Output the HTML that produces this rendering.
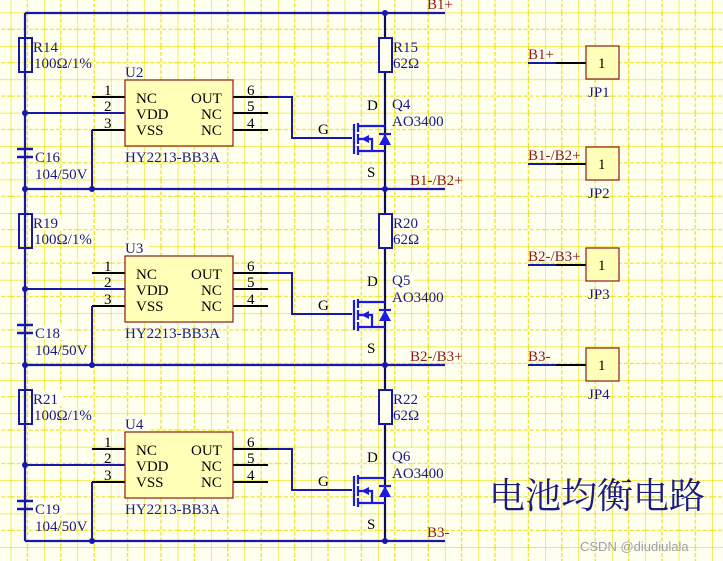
<!DOCTYPE html>
<html><head><meta charset="utf-8"><style>
html,body{margin:0;padding:0;background:#fffff0;}
svg{display:block;}
text{font-family:"Liberation Serif",serif;}
</style></head><body>
<svg width="723" height="561" viewBox="0 0 723 561" xmlns="http://www.w3.org/2000/svg">
<defs>
<pattern id="g" x="10.7" y="12.6" width="33.4" height="33.4" patternUnits="userSpaceOnUse">
<path d="M0 0 V33.4 M0 0 H33.4" stroke="#e8e000" stroke-width="1.2" fill="none"/>
<path d="M16.7 0 V33.4 M0 16.7 H33.4" stroke="#e8e000" stroke-width="1.1" stroke-dasharray="4 2" fill="none"/>
</pattern>
<g id="sec">
<rect x="19" y="38" width="13" height="34" fill="none" stroke="#1818a8" stroke-width="2"/>
<line x1="17" y1="149" x2="33" y2="149" stroke="#1818a8" stroke-width="2.5"/>
<line x1="17" y1="157" x2="33" y2="157" stroke="#1818a8" stroke-width="2.5"/>
<line x1="25" y1="113" x2="125" y2="113" stroke="#1818a8" stroke-width="2"/>
<circle cx="25" cy="113" r="3" fill="#1818a8"/>
<line x1="92" y1="97" x2="125" y2="97" stroke="#000" stroke-width="2"/>
<line x1="92" y1="130" x2="125" y2="130" stroke="#000" stroke-width="2"/>
<polyline points="92,130 92,189" fill="none" stroke="#1818a8" stroke-width="2"/>
<line x1="233" y1="97" x2="268" y2="97" stroke="#000" stroke-width="2"/>
<line x1="233" y1="113" x2="268" y2="113" stroke="#000" stroke-width="2"/>
<line x1="233" y1="130" x2="268" y2="130" stroke="#000" stroke-width="2"/>
<polyline points="268,97 292,97 292,138 352,138" fill="none" stroke="#1818a8" stroke-width="2"/>
<rect x="125" y="80" width="108" height="66" fill="#ffffb8" stroke="#8b1a1a" stroke-width="1.2"/>
<rect x="379" y="38" width="13" height="34" fill="#fffff0" stroke="#1818a8" stroke-width="2"/>
<g stroke="#1a1ae0" stroke-width="2.2" fill="none">
<line x1="354" y1="124" x2="354" y2="154"/>
<line x1="358" y1="123" x2="358" y2="132"/>
<line x1="358" y1="134" x2="358" y2="144"/>
<line x1="358" y1="146" x2="358" y2="155"/>
<line x1="358" y1="126" x2="385" y2="126"/>
<line x1="358" y1="151" x2="385" y2="151"/>
<polyline points="358,139 372,139 372,151"/>
<line x1="379" y1="134" x2="391" y2="134"/>
</g>
<polygon points="361,139 369,135 369,143" fill="#1a1ae0"/>
<polygon points="385,134 379,145 391,145" fill="#1a1ae0"/>
<g font-size="15" fill="#1a1a80">
<text x="33" y="52">R14</text>
<text x="34" y="68">100Ω/1%</text>
<text x="35" y="162">C16</text>
<text x="35" y="179">104/50V</text>
<text x="125" y="77">U2</text>
<text x="125" y="162">HY2213-BB3A</text>
<text x="393" y="52">R15</text>
<text x="393" y="68">62Ω</text>
<text x="392" y="109">Q4</text>
<text x="392" y="126">AO3400</text>
</g>
<g font-size="15" fill="#000">
<text x="104" y="95">1</text><text x="104" y="111">2</text><text x="104" y="128">3</text>
<text x="247" y="95">6</text><text x="247" y="111">5</text><text x="247" y="128">4</text>
<text x="136" y="103">NC</text><text x="136" y="119">VDD</text><text x="136" y="135">VSS</text>
<text x="191" y="103">OUT</text><text x="201" y="119">NC</text><text x="201" y="135">NC</text>
<text x="367" y="110">D</text><text x="318" y="134">G</text><text x="367" y="177">S</text>
</g>
</g>
</defs>
<rect width="723" height="561" fill="#fffff0"/>
<rect width="723" height="561" fill="url(#g)"/>

<g stroke="#1818a8" stroke-width="2.2" fill="none">
<line x1="25" y1="13" x2="445" y2="13"/>
<line x1="25" y1="189" x2="445" y2="189"/>
<line x1="25" y1="365" x2="445" y2="365"/>
<line x1="25" y1="541" x2="445" y2="541"/>
<line x1="25" y1="13" x2="25" y2="541"/>
</g>
<line x1="385" y1="13" x2="385" y2="541" stroke="#101050" stroke-width="2.2"/>

<use href="#sec"/>
<g transform="translate(0,176)"><use href="#sec"/></g>
<g transform="translate(0,352)"><use href="#sec"/></g>

<g font-size="15" fill="#1a1a80">
<rect x="33" y="215" width="30" height="15" fill="#fffff0"/><text x="33" y="228">R19</text>
<rect x="35" y="325" width="30" height="15" fill="#fffff0"/><text x="35" y="338">C18</text>
<rect x="125" y="240" width="24" height="15" fill="#fffff0"/><text x="125" y="253">U3</text>
<rect x="393" y="215" width="30" height="15" fill="#fffff0"/><text x="393" y="228">R20</text>
<rect x="392" y="272" width="22" height="15" fill="#fffff0"/><text x="392" y="285">Q5</text>
<rect x="33" y="391" width="30" height="15" fill="#fffff0"/><text x="33" y="404">R21</text>
<rect x="35" y="501" width="30" height="15" fill="#fffff0"/><text x="35" y="514">C19</text>
<rect x="125" y="416" width="24" height="15" fill="#fffff0"/><text x="125" y="429">U4</text>
<rect x="393" y="391" width="30" height="15" fill="#fffff0"/><text x="393" y="404">R22</text>
<rect x="392" y="448" width="22" height="15" fill="#fffff0"/><text x="392" y="461">Q6</text>
</g>

<g fill="#1818a8">
<circle cx="385" cy="13" r="3"/>
<circle cx="25" cy="189" r="3"/><circle cx="92" cy="189" r="3"/><circle cx="385" cy="189" r="3"/>
<circle cx="25" cy="365" r="3"/><circle cx="92" cy="365" r="3"/><circle cx="385" cy="365" r="3"/>
<circle cx="92" cy="541" r="3"/><circle cx="385" cy="541" r="3"/>
</g>

<g font-size="15" fill="#8b1a1a">
<text x="427" y="9">B1+</text>
<text x="410" y="185">B1-/B2+</text>
<text x="410" y="361">B2-/B3+</text>
<text x="427" y="537">B3-</text>
</g>

<g>
<line x1="528" y1="63" x2="586" y2="63" stroke="#000" stroke-width="2"/>
<line x1="528" y1="63" x2="556" y2="63" stroke="#1818a8" stroke-width="2"/>
<rect x="586" y="46" width="33" height="33" fill="#ffffb8" stroke="#8b1a1a" stroke-width="1.2"/>
<line x1="528" y1="164" x2="586" y2="164" stroke="#000" stroke-width="2"/>
<line x1="528" y1="164" x2="556" y2="164" stroke="#1818a8" stroke-width="2"/>
<rect x="586" y="147" width="33" height="33" fill="#ffffb8" stroke="#8b1a1a" stroke-width="1.2"/>
<line x1="528" y1="265" x2="586" y2="265" stroke="#000" stroke-width="2"/>
<line x1="528" y1="265" x2="556" y2="265" stroke="#1818a8" stroke-width="2"/>
<rect x="586" y="248" width="33" height="33" fill="#ffffb8" stroke="#8b1a1a" stroke-width="1.2"/>
<line x1="528" y1="365" x2="586" y2="365" stroke="#000" stroke-width="2"/>
<line x1="528" y1="365" x2="556" y2="365" stroke="#1818a8" stroke-width="2"/>
<rect x="586" y="348" width="33" height="33" fill="#ffffb8" stroke="#8b1a1a" stroke-width="1.2"/>
</g>
<g font-size="15" fill="#000">
<text x="598" y="68">1</text><text x="598" y="169">1</text><text x="598" y="270">1</text><text x="598" y="370">1</text>
</g>
<g font-size="15" fill="#8b1a1a">
<text x="528" y="59">B1+</text><text x="528" y="160">B1-/B2+</text><text x="528" y="261">B2-/B3+</text><text x="528" y="361">B3-</text>
</g>
<g font-size="15" fill="#1a1a80">
<text x="588" y="97">JP1</text><text x="588" y="198">JP2</text><text x="588" y="299">JP3</text><text x="588" y="399">JP4</text>
</g>

<text x="489" y="508" font-size="36" fill="#1a1a80" style="font-family:'Liberation Serif','Noto Serif CJK SC',serif">电池均衡电路</text>
<text x="580" y="551" font-size="13" fill="#a0a0a0" style="font-family:'Liberation Sans',sans-serif">CSDN @diudiulala</text>
</svg>
</body></html>
